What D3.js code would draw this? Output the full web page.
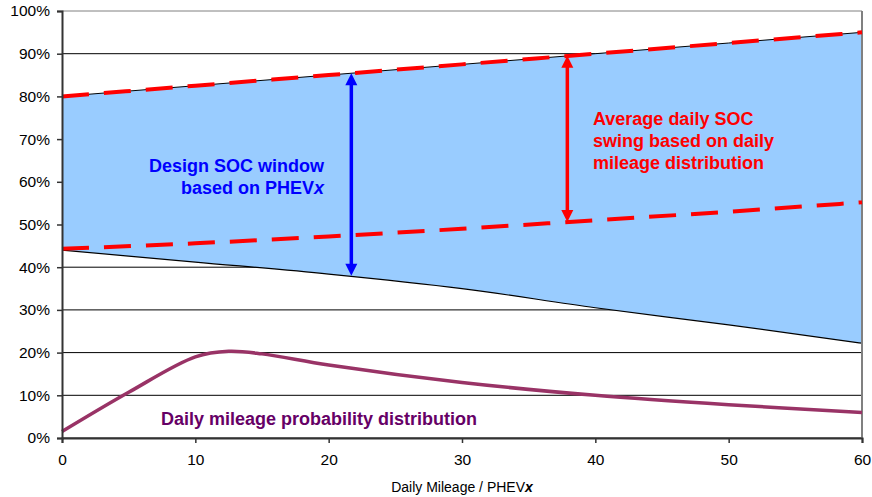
<!DOCTYPE html>
<html>
<head>
<meta charset="utf-8">
<script src="https://cdn.jsdelivr.net/npm/d3@7"></script>
<style>
  body { margin: 0; background: #fff; }
  text { font-family: "Liberation Sans", Arial, sans-serif; }
</style>
</head>
<body>
<div id="chart"></div>
<script>
// data (mileage on x, percent on y)
var miles = [0, 10, 20, 30, 40, 50, 60];
var upperSOC = [80, 82.5, 85, 87.5, 90, 92.5, 95];
var lowerSOC = [44.0, 41.2, 38.4, 35.0, 30.5, 26.5, 22.2];
var avgSwingLow = [44.3, 45.6, 47.2, 49.0, 51.0, 53.0, 55.2];

var distMiles = [0, 5, 10, 12.5, 15, 20, 30, 40, 50, 60];
var distProb = [1.5, 10.7, 19.0, 20.3, 19.7, 17.1, 13.0, 10.0, 7.8, 6.0];

var xTicks = [0, 10, 20, 30, 40, 50, 60];
var yTicks = [0, 10, 20, 30, 40, 50, 60, 70, 80, 90, 100];

// arrows: [x, top, bottom]
var designArrow = [21.7, 85.4, 38.0];
var swingArrow = [37.9, 89.5, 50.6];

var margin = { top: 11, right: 10, bottom: 59, left: 62 },
  width = 872 - margin.left - margin.right,
  height = 497 - margin.top - margin.bottom;

var svg = d3.select("#chart")
  .append("svg")
  .attr("width", 872)
  .attr("height", 497)
  .append("g")
  .attr("transform", "translate(" + margin.left + "," + margin.top + ")");

var x = d3.scaleLinear().domain([0, 60]).range([0, 800]);
var y = d3.scaleLinear().domain([0, 100]).range([height, 0]);

// gridlines
svg.append("g")
  .selectAll("line")
  .data(yTicks)
  .enter()
  .append("line")
  .attr("x1", 0)
  .attr("x2", x(60))
  .attr("y1", function (d) { return y(d); })
  .attr("y2", function (d) { return y(d); })
  .attr("stroke", function (d) { return d == 100 ? "#808080" : "#000"; })
  .attr("stroke-width", 1);

// blue SOC window
var rows = miles.map(function (m, i) { return { m: m, hi: upperSOC[i], lo: lowerSOC[i] }; });
svg.append("path")
  .datum(rows)
  .attr("fill", "#99ccff")
  .attr("d", d3.area()
    .x(function (d) { return x(d.m); })
    .y0(function (d) { return y(d.lo); })
    .y1(function (d) { return y(d.hi); })
    .curve(d3.curveMonotoneX));

// black outline of lower/upper edges
svg.append("path")
  .datum(rows)
  .attr("fill", "none")
  .attr("stroke", "#000")
  .attr("stroke-width", 1.2)
  .attr("d", d3.line()
    .x(function (d) { return x(d.m); })
    .y(function (d) { return y(d.lo); })
    .curve(d3.curveMonotoneX));

svg.append("path")
  .datum(rows)
  .attr("fill", "none")
  .attr("stroke", "#000")
  .attr("stroke-width", 1)
  .attr("d", d3.line()
    .x(function (d) { return x(d.m); })
    .y(function (d) { return y(d.hi); }));

// right border
svg.append("line")
  .attr("x1", x(60)).attr("x2", x(60))
  .attr("y1", 0).attr("y2", height)
  .attr("stroke", "#808080")
  .attr("stroke-width", 2);

// red dashed lines
[upperSOC, avgSwingLow].forEach(function (vals) {
  svg.append("path")
    .datum(miles)
    .attr("fill", "none")
    .attr("stroke", "#ff0000")
    .attr("stroke-width", 4)
    .attr("stroke-dasharray", "27,15")
    .attr("d", d3.line()
      .x(function (d) { return x(d); })
      .y(function (d, i) { return y(vals[i]); })
      .curve(d3.curveMonotoneX));
});

// mileage distribution
svg.append("path")
  .datum(distMiles)
  .attr("fill", "none")
  .attr("stroke", "#993366")
  .attr("stroke-width", 3.5)
  .attr("d", d3.line()
    .x(function (d) { return x(d); })
    .y(function (d, i) { return y(distProb[i]); })
    .curve(d3.curveCatmullRom.alpha(0.5)));

// double headed arrows
function arrow(a, color) {
  var ax = x(a[0]), yt = y(a[1]), yb = y(a[2]), h = 12, w = 6;
  svg.append("line")
    .attr("x1", ax).attr("x2", ax)
    .attr("y1", yt + h - 2).attr("y2", yb - h + 2)
    .attr("stroke", color)
    .attr("stroke-width", 3.5);
  svg.append("path")
    .attr("fill", color)
    .attr("d", "M" + ax + "," + yt + "L" + (ax - w) + "," + (yt + h) + "L" + (ax + w) + "," + (yt + h) + "Z");
  svg.append("path")
    .attr("fill", color)
    .attr("d", "M" + ax + "," + yb + "L" + (ax - w) + "," + (yb - h) + "L" + (ax + w) + "," + (yb - h) + "Z");
}
arrow(designArrow, "#0000ff");
arrow(swingArrow, "#ff0000");

// axes
var yAxis = svg.append("g")
  .call(d3.axisLeft(y).tickValues(yTicks).tickSize(5).tickFormat(function (d) { return d + "%"; }));
yAxis.select(".domain").attr("stroke", "#333").attr("stroke-width", 2);
yAxis.selectAll(".tick line").attr("stroke", "#333").attr("stroke-width", 1.5);
yAxis.selectAll(".tick text")
  .attr("x", -12)
  .style("font-size", "15.5px")
  .style("font-family", "Liberation Sans, Arial, sans-serif")
  .attr("fill", "#000");

var xAxis = svg.append("g")
  .attr("transform", "translate(0," + height + ")")
  .call(d3.axisBottom(x).tickValues(xTicks).tickSize(5));
xAxis.select(".domain").attr("stroke", "#333").attr("stroke-width", 2);
xAxis.selectAll(".tick line").attr("stroke", "#333").attr("stroke-width", 1.5);
xAxis.selectAll(".tick text")
  .attr("y", 16)
  .style("font-size", "15.5px")
  .style("font-family", "Liberation Sans, Arial, sans-serif")
  .attr("fill", "#000");

// x axis label
var xl = svg.append("text")
  .attr("x", x(30))
  .attr("y", height + 54)
  .style("text-anchor", "middle")
  .style("font-size", "14px")
  .attr("fill", "#000");
xl.append("tspan").text("Daily Mileage / PHEV");
xl.append("tspan").style("font-style", "italic").style("font-weight", "bold").text("x");

// annotations
var t1 = svg.append("text")
  .attr("fill", "#0000ff")
  .style("font-weight", "bold")
  .style("font-size", "18px")
  .style("text-anchor", "end");
t1.append("tspan").attr("x", 262).attr("y", 161).text("Design SOC window");
var t1b = t1.append("tspan").attr("x", 262).attr("y", 183);
t1b.text("based on PHEV");
t1.append("tspan").style("font-style", "italic").text("x");

var t2 = svg.append("text")
  .attr("fill", "#ff0000")
  .style("font-weight", "bold")
  .style("font-size", "18px");
t2.append("tspan").attr("x", 531).attr("y", 114).text("Average daily SOC");
t2.append("tspan").attr("x", 531).attr("y", 136).text("swing based on daily");
t2.append("tspan").attr("x", 531).attr("y", 158).text("mileage distribution");

svg.append("text")
  .attr("x", 99)
  .attr("y", 414)
  .attr("fill", "#660066")
  .style("font-weight", "bold")
  .style("font-size", "18px")
  .text("Daily mileage probability distribution");
</script>
</body>
</html>
